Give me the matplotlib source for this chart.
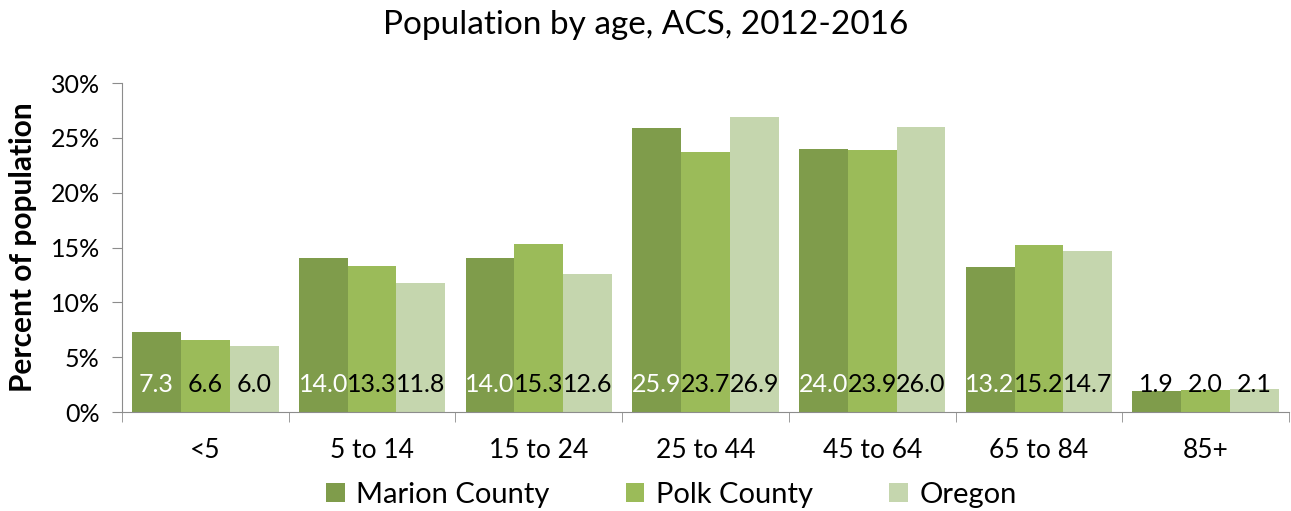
import numpy as np
import matplotlib
matplotlib.use('Agg')
import matplotlib.pyplot as plt

plt.rcParams['font.family'] = ['Lato', 'DejaVu Sans']

ages = ['<5', '5 to 14', '15 to 24', '25 to 44', '45 to 64', '65 to 84', '85+']
marion = [7.3, 14.0, 14.0, 25.9, 24.0, 13.2, 1.9]
polk = [6.6, 13.3, 15.3, 23.7, 23.9, 15.2, 2.0]
oregon = [6.0, 11.8, 12.6, 26.9, 26.0, 14.7, 2.1]
series_names = ['Marion County', 'Polk County', 'Oregon']
colors = ['#7f9c4b', '#9bbb59', '#c5d6ae']

fig = plt.figure(figsize=(12.91, 5.11), dpi=100)
ax = fig.add_axes([122/1291, 1 - 412/511, (1289-122)/1291, (412-83)/511])

x = np.arange(len(ages))
w = 0.293
for i, (vals, name, c) in enumerate(zip([marion, polk, oregon], series_names, colors)):
    pos = x + (i - 1) * w
    ax.bar(pos, vals, width=w, color=c, label=name)
    for j, (p, v) in enumerate(zip(pos, vals)):
        tc = 'white' if (i == 0 and v > 5) else 'black'
        ax.annotate(f'{v:.1f}', xy=(p, 0), xytext=(0, 19.5), textcoords='offset points',
                    ha='center', va='center', fontsize=18, color=tc)

ax.set_xlim(-0.5, len(ages) - 0.5)
ax.set_ylim(0, 30)
ax.set_yticks(range(0, 31, 5))
ax.set_yticklabels([f'{t}%' for t in range(0, 31, 5)], fontsize=18)
ax.set_xticks(x)
ax.set_xticklabels(ages, fontsize=19)
ax.tick_params(axis='x', length=0, pad=19)
ax.set_xticks(np.arange(-0.5, len(ages)), minor=True)
ax.tick_params(axis='x', which='minor', length=7, color='#8c8c8c', direction='out')
ax.tick_params(axis='y', length=7, color='#8c8c8c', pad=9)

for s in ['top', 'right']:
    ax.spines[s].set_visible(False)
ax.spines['left'].set_color('#8c8c8c')
ax.spines['bottom'].set_color('#8c8c8c')

ax.set_ylabel('Percent of population', fontsize=21.5, fontweight='bold', labelpad=10)
fig.suptitle('Population by age, ACS, 2012-2016', fontsize=24, y=0.98)

fig.legend(loc='lower center', bbox_to_anchor=(0.52, -0.045), ncol=3, frameon=False,
           fontsize=21, handlelength=0.65, handleheight=0.65, columnspacing=2.6, handletextpad=0.4)

fig.savefig('out.png', dpi=100)
